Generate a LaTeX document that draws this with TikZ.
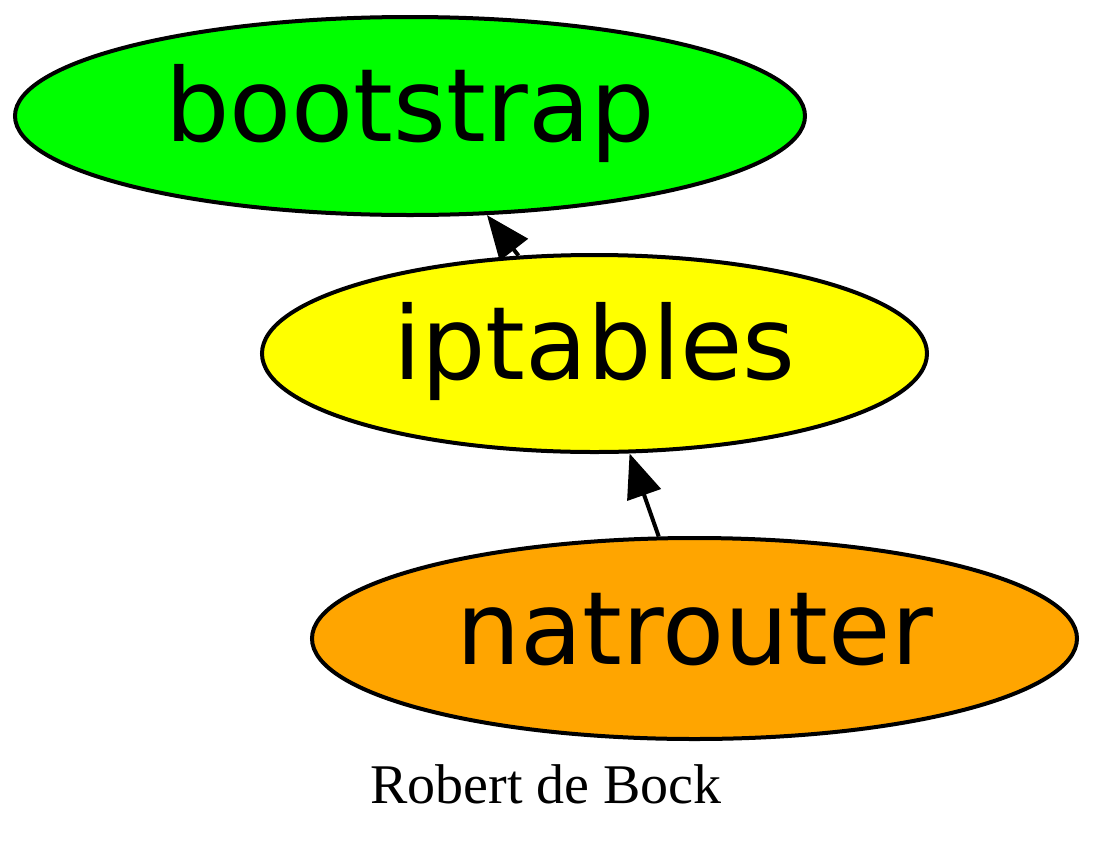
\documentclass[tikz,border=0pt]{standalone}
\usepackage{fontspec}
\setmainfont{Liberation Serif}
\newfontfamily\nodefont{DejaVu Sans}
\usetikzlibrary{shapes.geometric,arrows.meta}
\definecolor{cgreen}{HTML}{00FF00}
\definecolor{cyellow}{HTML}{FFFF00}
\definecolor{corange}{HTML}{FFA500}
\tikzset{
  gnode/.style={ellipse, draw=black, line width=4pt, inner sep=0pt,
    font=\nodefont\fontsize{101.5}{112}\selectfont,
    text height=75pt, text depth=24pt},
  gedge/.style={draw=black, line width=4pt,
    -{Triangle[length=44pt,width=35pt]}},
}
\begin{document}
\begin{tikzpicture}[x=1pt,y=-1pt]
\useasboundingbox (0,0) rectangle (1095,852);
\node[gnode, fill=cgreen, minimum width=790pt, minimum height=198pt] (boot) at (410,116) {bootstrap};
\node[gnode, fill=cyellow, minimum width=665pt, minimum height=197pt] (ipt) at (594.5,353.5) {iptables};
\node[gnode, fill=corange, minimum width=765pt, minimum height=201pt] (nat) at (694.5,638.5) {natrouter};
\draw[gedge] (ipt) -- (boot);
\draw[gedge] (nat) -- (ipt);
\node[anchor=base, font=\fontsize{56}{60}\selectfont, inner sep=0pt] (credit) at (546,803) {Robert de Bock};
\end{tikzpicture}
\end{document}
